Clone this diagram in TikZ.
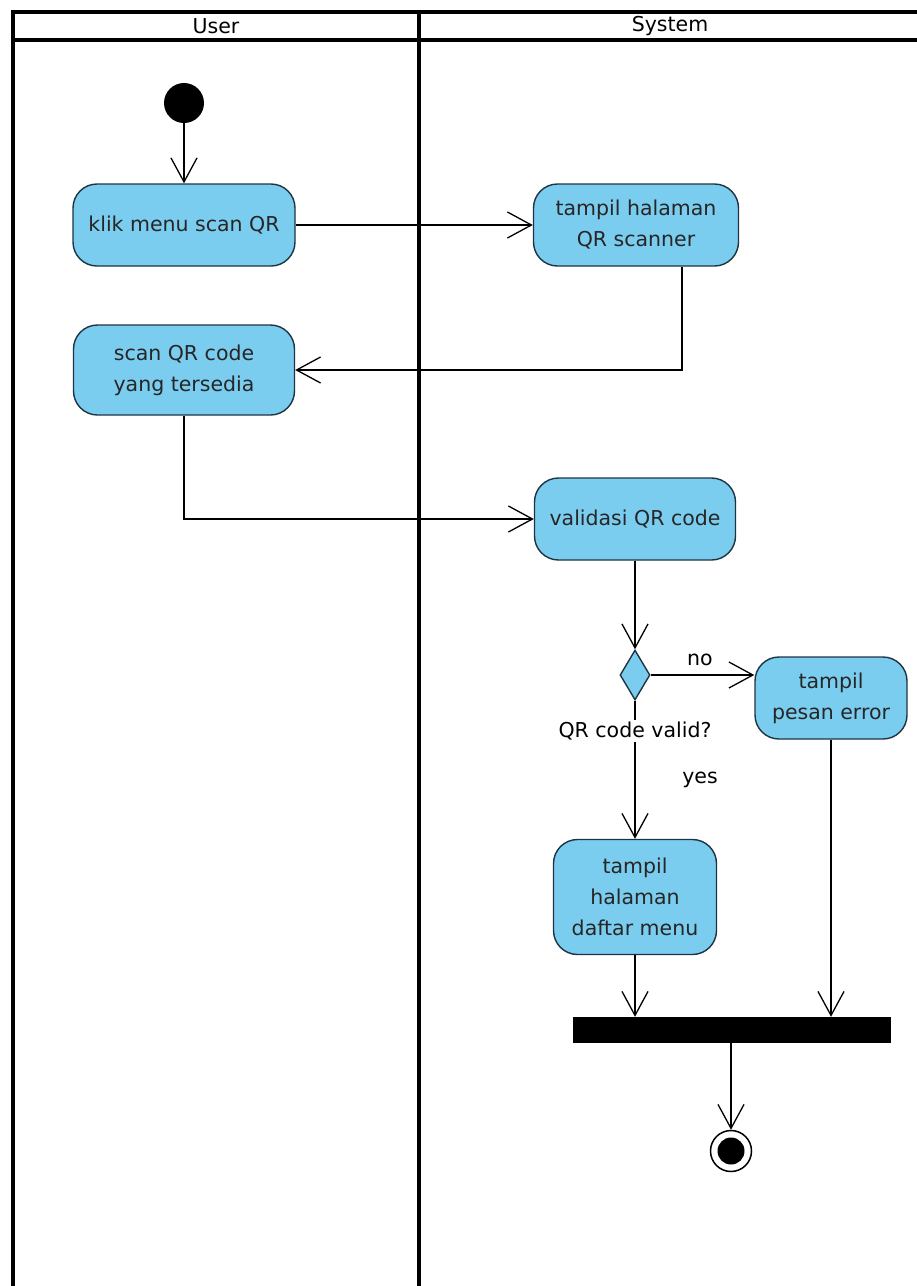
\documentclass[tikz,border=0pt]{standalone}
\usepackage{fontspec}
\setmainfont{DejaVu Sans}
\usetikzlibrary{arrows.meta,shapes.geometric,calc}
\definecolor{actfill}{HTML}{7BCDF0}
\definecolor{actline}{HTML}{1F3442}
\tikzset{
  act/.style={draw=actline, fill=actfill, line width=1.4pt, rounded corners=24pt,
    align=center, inner sep=1pt, font=\fontsize{20.5}{31}\selectfont, text=black!85},
  arr/.style={line width=1.3pt, -{Straight Barb[length=24pt,width=26pt,line width=1.3pt]}},
  lane/.style={line width=3.2pt},
  lbl/.style={font=\fontsize{20.5}{24}\selectfont, inner sep=2pt},
}
\begin{document}
\begin{tikzpicture}[x=1pt,y=-1pt]
\useasboundingbox (0,0) rectangle (917,1286);
% swimlanes
\draw[lane] (13,1286) -- (13,12) -- (917,12);
\draw[lane] (13,40) -- (917,40);
\draw[lane] (419,12) -- (419,1286);
\node[lbl] (lu) at (216,26) {User};
\node[lbl] (ls) at (670,26) {System};
% nodes
\node[circle, fill=black, minimum size=40pt, inner sep=0pt] (init) at (184,103) {};
\node[act, minimum width=222pt, minimum height=82pt] (klik) at (184,225) {klik menu scan QR};
\node[act, minimum width=205pt, minimum height=82pt] (tqr) at (636,225) {tampil halaman\\QR scanner};
\node[act, minimum width=221pt, minimum height=90pt] (scan) at (184,370) {scan QR code\\yang tersedia};
\node[act, minimum width=201pt, minimum height=82pt] (valid) at (635,519) {validasi QR code};
\node[diamond, draw=actline, fill=actfill, line width=1.4pt, minimum width=30pt, minimum height=50pt, inner sep=0pt] (dec) at (635,675) {};
\node[act, minimum width=152pt, minimum height=82pt] (err) at (831,698) {tampil\\pesan error};
\node[act, minimum width=163pt, minimum height=115pt] (daftar) at (635,897) {tampil\\halaman\\daftar menu};
\node[rectangle, fill=black, minimum width=318pt, minimum height=26pt, inner sep=0pt] (bar) at (732,1030) {};
\node[circle, draw=black, fill=white, line width=1.5pt, minimum size=41pt, inner sep=0pt] (fin) at (731,1151) {};
\node[circle, fill=black, minimum size=27pt, inner sep=0pt] (finin) at (731,1151) {};
% connectors
\draw[arr] (init) -- (klik);
\draw[arr] (klik) -- (tqr);
\draw[arr] ([xshift=46pt]tqr.south) |- (scan.east);
\draw[arr] (scan.south) |- (valid.west);
\draw[arr] (valid.south) -- (dec.north);
\draw[arr] (dec.east) -- (dec.east -| err.west);
\draw[arr] (dec.south) -- (daftar.north);
\draw[arr] (daftar.south) -- (daftar.south |- bar.north);
\draw[arr] (err.south) -- (err.south |- bar.north);
\draw[arr] (bar.south -| fin.north) -- (fin.north);
% labels
\node[lbl, fill=white] (qlbl) at (635,731) {QR code valid?};
\node[lbl] (nolbl) at (700,660) {no};
\node[lbl] (yeslbl) at (700,780) {yes};
\end{tikzpicture}
\end{document}
